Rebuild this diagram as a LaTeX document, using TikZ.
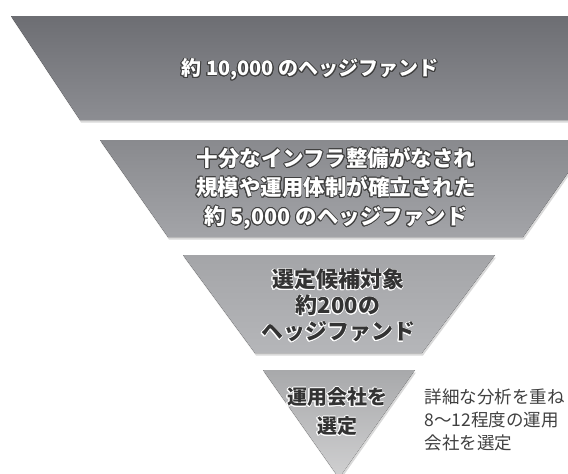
\documentclass[tikz,border=0pt]{standalone}
\usepackage{fontspec}
\usepackage{contour}
\usetikzlibrary{shadows}
\newfontfamily\jp{Noto Sans CJK JP}
\contourlength{0.7pt}
\newcommand{\litxt}[1]{\contour{black!75}{#1}}
\newcommand{\dktxt}[1]{\contour{white}{#1}}
\definecolor{bandA}{HTML}{6D6E73}
\definecolor{bandAb}{HTML}{8C8D92}
\definecolor{bandB}{HTML}{898A8E}
\definecolor{bandBb}{HTML}{A3A4A8}
\definecolor{bandC}{HTML}{A4A5A8}
\definecolor{bandCb}{HTML}{B5B6B9}
\definecolor{bandD}{HTML}{A8A9AB}
\definecolor{bandDb}{HTML}{D0D0D1}
\tikzset{
  band/.style={drop shadow={shadow xshift=1pt, shadow yshift=-2.5pt, opacity=.3}},
  lvltext/.style={font=\jp\bfseries\fontsize{20}{29}\selectfont, align=center},
  sidetext/.style={font=\jp\fontsize{17.5}{23}\selectfont, align=left, text=black!75, anchor=west}
}

\begin{document}
\begin{tikzpicture}[x=1pt, y=-1pt]
			%%%%% START %%%%%
			\useasboundingbox (0, 0) rectangle (568, 474);
			\clip (0, 0) rectangle (568, 474);
			
			\fill[band, top color=bandA, bottom color=bandAb] (11, 16) -- (680, 16) -- (610, 120) -- (80, 120) -- cycle;
			\fill[band, top color=bandB, bottom color=bandBb] (100, 140) -- (591, 140) -- (523, 237) -- (168, 237) -- cycle;
			\fill[band, top color=bandC, bottom color=bandCb] (183, 255) -- (495, 255) -- (422, 353) -- (255, 353) -- cycle;
			\fill[band, top color=bandD, bottom color=bandDb] (263, 370) -- (415, 370) -- (339, 478) -- cycle;
			
			\node[lvltext, text=white] (all) at (310, 70) {\litxt{約 10,000 のヘッジファンド}};
			\node[lvltext, text=white, font=\jp\bfseries\fontsize{21.5}{29}\selectfont] (infra) at (336, 189) {\litxt{十分なインフラ整備がなされ}\\ \litxt{規模や運用体制が確立された}\\ \litxt{約 5,000 のヘッジファンド}};
			\node[lvltext, text=black!80, font=\jp\bfseries\fontsize{22}{26}\selectfont] (cand) at (338, 306) {\dktxt{選定候補対象}\\ \dktxt{約200の}\\ \dktxt{ヘッジファンド}};
			\node[lvltext, text=black!80] (pick) at (337, 412) {\dktxt{運用会社を}\\ \dktxt{選定}};
			
			\node[sidetext] (note) at (421, 420) {詳細な分析を重ね\\ 8～12程度の運用\\ 会社を選定};
			
			%%%%% END %%%%%
\end{tikzpicture}
\end{document}
